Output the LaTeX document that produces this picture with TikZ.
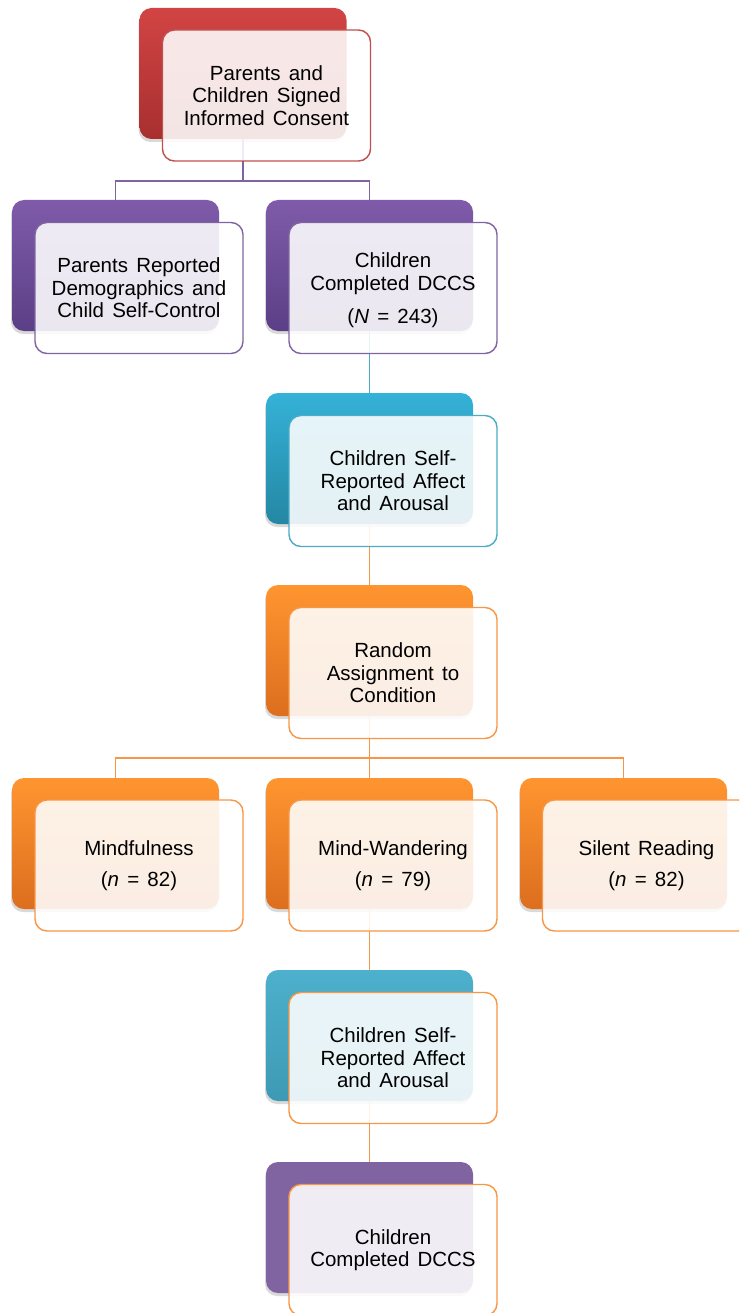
\documentclass[tikz,border=0pt]{standalone}
\usepackage{fontspec}
\setmainfont{Liberation Sans}
\usetikzlibrary{shadows}

\definecolor{redTop}{HTML}{D24444}
\definecolor{redBot}{HTML}{A82F2F}
\definecolor{redLine}{HTML}{C0504D}
\definecolor{purTop}{HTML}{7F5BA9}
\definecolor{purBot}{HTML}{5B3F86}
\definecolor{purFlat}{HTML}{8063A1}
\definecolor{purLine}{HTML}{8064A2}
\definecolor{tealTop}{HTML}{35B2D8}
\definecolor{tealBot}{HTML}{2487A3}
\definecolor{tealTopB}{HTML}{4DB0CC}
\definecolor{tealBotB}{HTML}{3E9AB4}
\definecolor{tealLine}{HTML}{4BACC6}
\definecolor{orgTop}{HTML}{FF9530}
\definecolor{orgBot}{HTML}{DC6E1E}
\definecolor{orgLine}{HTML}{F79646}

\newcommand{\boxfont}{\fontsize{20.5}{22.5}\selectfont\spaceskip=0.4em\relax}

\tikzset{
  backbox/.style 2 args={rounded corners=12pt, minimum width=207pt, minimum height=131pt,
    top color=#1, bottom color=#2,
    drop shadow={opacity=0.3, shadow xshift=-1pt, shadow yshift=-3pt}},
  frontbox/.style={draw=#1, line width=1.4pt, rounded corners=12pt, fill=white,
    fill opacity=0.88, text opacity=1, minimum width=208pt, minimum height=131pt,
    align=center, font=\boxfont},
  link/.style={draw=#1, line width=1.6pt}
}

\begin{document}
\begin{tikzpicture}[x=1pt, y=-1pt]
    \useasboundingbox (0,0) rectangle (739,1313);
    \clip (0,0) rectangle (739,1313);

    % Back boxes
    \node[backbox={redTop}{redBot}] (consentB) at (243,73.5) {};
    \node[backbox={purTop}{purBot}] (demoB) at (115.5,265.5) {};
    \node[backbox={purTop}{purBot}] (dccsB) at (369.5,265.5) {};
    \node[backbox={tealTop}{tealBot}] (affectB) at (369.5,458.5) {};
    \node[backbox={orgTop}{orgBot}] (randomB) at (369.5,650.5) {};
    \node[backbox={orgTop}{orgBot}] (mindB) at (115.5,843.5) {};
    \node[backbox={orgTop}{orgBot}] (wanderB) at (369.5,843.5) {};
    \node[backbox={orgTop}{orgBot}] (readB) at (623.5,843.5) {};
    \node[backbox={tealTopB}{tealBotB}] (affectTwoB) at (369.5,1035.5) {};
    \node[backbox={purFlat}{purFlat}] (dccsTwoB) at (369.5,1227.5) {};

    % Connectors
    \draw[link=purLine] (consentB.south) -- ++(0,42) -| (demoB.north);
    \draw[link=purLine] (consentB.south) ++(0,42) -| (dccsB.north);
    \draw[link=tealLine] (dccsB.south) -- (affectB.north);
    \draw[link=orgLine] (affectB.south) -- (randomB.north);
    \draw[link=orgLine] (randomB.south) -- ++(0,42) -| (mindB.north);
    \draw[link=orgLine] (randomB.south) ++(0,42) -| (readB.north);
    \draw[link=orgLine] (randomB.south) -- (wanderB.north);
    \draw[link=orgLine] (wanderB.south) -- (affectTwoB.north);
    \draw[link=orgLine] (affectTwoB.south) -- (dccsTwoB.north);

    % Front boxes
    \node[frontbox=redLine] (consent) at (266.5,95.5) {Parents and\\Children Signed\\Informed Consent};
    \node[frontbox=purLine] (demo) at (139,288) {Parents Reported\\Demographics and\\Child Self-Control};
    \node[frontbox=purLine] (dccs) at (393,288) {\\[-3pt]Children\\Completed DCCS\\[11pt](\textit{N} = 243)};
    \node[frontbox=tealLine] (affect) at (393,481) {Children Self-\\Reported Affect\\and Arousal};
    \node[frontbox=orgLine] (random) at (393,673) {Random\\Assignment to\\Condition};
    \node[frontbox=orgLine] (mind) at (139,865.5) {Mindfulness\\[9pt](\textit{n} = 82)};
    \node[frontbox=orgLine] (wander) at (393,865.5) {Mind-Wandering\\[9pt](\textit{n} = 79)};
    \node[frontbox=orgLine] (read) at (646.5,865.5) {Silent Reading\\[9pt](\textit{n} = 82)};
    \node[frontbox=orgLine] (affectTwo) at (393,1058) {Children Self-\\Reported Affect\\and Arousal};
    \node[frontbox=orgLine] (dccsTwo) at (393,1250) {Children\\Completed DCCS};
\end{tikzpicture}
\end{document}
